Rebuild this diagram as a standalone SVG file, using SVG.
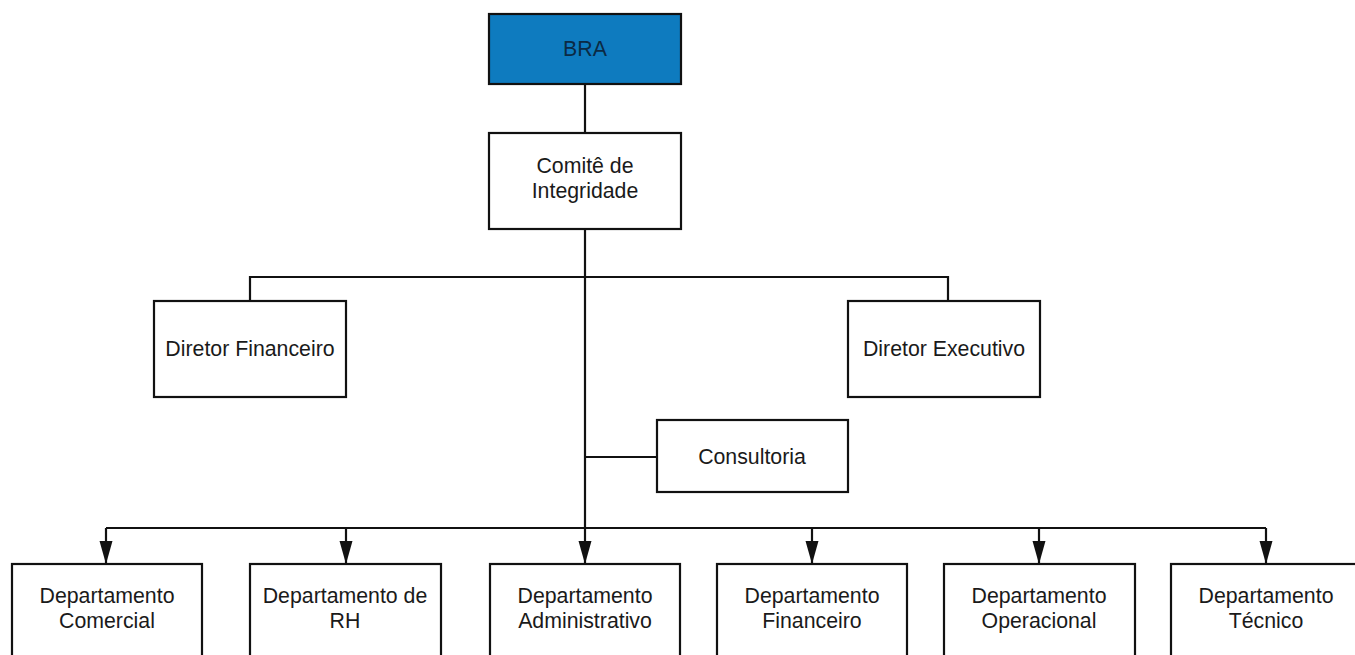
<svg xmlns="http://www.w3.org/2000/svg" width="1355" height="655" viewBox="0 0 1355 655">
  <defs>
    <style>
      .box { fill: #ffffff; stroke: #111111; stroke-width: 2.2; }
      .top { fill: #0e7bbf; stroke: #111111; stroke-width: 2.2; }
      .lbl { font-family: "Liberation Sans", Arial, sans-serif; font-size: 21.3px; fill: #1a1a1a; text-anchor: middle; }
      .lbl-top { fill: #0b2a44; }
      .wire { fill: none; stroke: #111111; stroke-width: 2.2; }
    </style>
    <!-- filled triangular head; tip sits on the path end -->
    <marker id="arrow" markerUnits="userSpaceOnUse" markerWidth="24" markerHeight="14" refX="23" refY="7" orient="auto" viewBox="0 0 24 14">
      <path d="M0,0.5 L23,7 L0,13.5 Z" fill="#111111"/>
    </marker>
  </defs>

  <rect width="1355" height="655" fill="#ffffff"/>

  <!-- connectors -->
  <g id="connectors">
    <path class="wire" d="M585,84 V133"/>
    <path class="wire" d="M585,229 V528"/>
    <path class="wire" d="M250,301 V277 H948 V301"/>
    <path class="wire" d="M585,457 H657"/>
    <path class="wire" d="M106,528 H1266"/>
    <path class="wire" d="M106,528 V564" marker-end="url(#arrow)"/>
    <path class="wire" d="M346,528 V564" marker-end="url(#arrow)"/>
    <path class="wire" d="M585,528 V564" marker-end="url(#arrow)"/>
    <path class="wire" d="M812,528 V564" marker-end="url(#arrow)"/>
    <path class="wire" d="M1039,528 V564" marker-end="url(#arrow)"/>
    <path class="wire" d="M1266,528 V564" marker-end="url(#arrow)"/>
  </g>

  <!-- nodes -->
  <g id="bra">
    <rect class="top" x="489" y="14" width="192" height="70"/>
    <text class="lbl lbl-top" x="585" y="56">BRA</text>
  </g>
  <g id="comite">
    <rect class="box" x="489" y="133" width="192" height="96"/>
    <text class="lbl" x="585" y="173">Comitê de</text>
    <text class="lbl" x="585" y="198">Integridade</text>
  </g>
  <g id="diretor-financeiro">
    <rect class="box" x="154" y="301" width="192" height="96"/>
    <text class="lbl" x="250" y="356">Diretor Financeiro</text>
  </g>
  <g id="diretor-executivo">
    <rect class="box" x="848" y="301" width="192" height="96"/>
    <text class="lbl" x="944" y="356">Diretor Executivo</text>
  </g>
  <g id="consultoria">
    <rect class="box" x="657" y="420" width="191" height="72"/>
    <text class="lbl" x="752" y="464">Consultoria</text>
  </g>
  <g id="dep-comercial">
    <rect class="box" x="12" y="564" width="190" height="100"/>
    <text class="lbl" x="107" y="603">Departamento</text>
    <text class="lbl" x="107" y="628">Comercial</text>
  </g>
  <g id="dep-rh">
    <rect class="box" x="250" y="564" width="191" height="100"/>
    <text class="lbl" x="345" y="603">Departamento de</text>
    <text class="lbl" x="345" y="628">RH</text>
  </g>
  <g id="dep-administrativo">
    <rect class="box" x="490" y="564" width="190" height="100"/>
    <text class="lbl" x="585" y="603">Departamento</text>
    <text class="lbl" x="585" y="628">Administrativo</text>
  </g>
  <g id="dep-financeiro">
    <rect class="box" x="717" y="564" width="190" height="100"/>
    <text class="lbl" x="812" y="603">Departamento</text>
    <text class="lbl" x="812" y="628">Financeiro</text>
  </g>
  <g id="dep-operacional">
    <rect class="box" x="944" y="564" width="191" height="100"/>
    <text class="lbl" x="1039" y="603">Departamento</text>
    <text class="lbl" x="1039" y="628">Operacional</text>
  </g>
  <g id="dep-tecnico">
    <rect class="box" x="1171" y="564" width="191" height="100"/>
    <text class="lbl" x="1266" y="603">Departamento</text>
    <text class="lbl" x="1266" y="628">Técnico</text>
  </g>
</svg>
